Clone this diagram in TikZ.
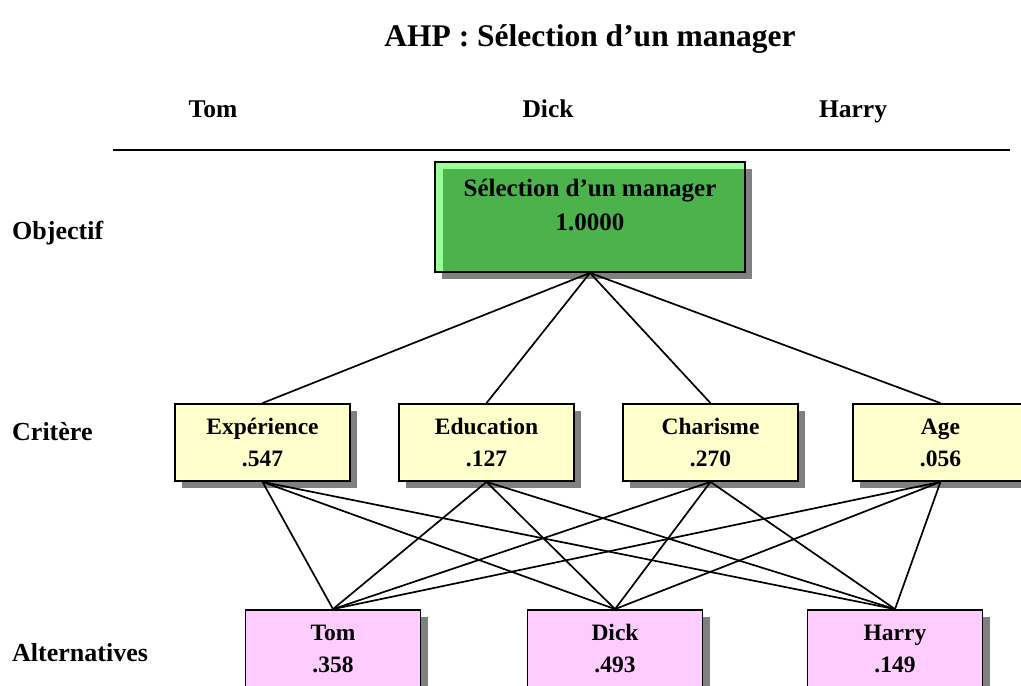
\documentclass[tikz,border=0pt]{standalone}
\usepackage{fontspec}
\setmainfont{Liberation Serif}
\usetikzlibrary{shadows}
\definecolor{goallight}{HTML}{99FF99}
\definecolor{goaldark}{HTML}{4CB34C}
\definecolor{critfill}{HTML}{FFFFCC}
\definecolor{altfill}{HTML}{FFCCFF}
\definecolor{shadowgray}{HTML}{808080}
\tikzset{
  boxshadow/.style={drop shadow={shadow xshift=7pt,shadow yshift=-7pt,fill=shadowgray,opacity=1}},
  critbox/.style={draw=black,line width=1.8pt,fill=critfill,boxshadow,
    minimum width=175pt,minimum height=77pt,inner sep=0pt,align=center,
    font=\bfseries\fontsize{23.5}{32}\selectfont},
  altbox/.style={critbox,fill=altfill},
  goalbox/.style={draw=black,line width=1.8pt,fill=goallight,boxshadow,
    minimum width=310pt,minimum height=110pt,inner sep=0pt,
    path picture={\fill[goaldark] ([xshift=8pt,yshift=-7pt]path picture bounding box.north west)
      rectangle (path picture bounding box.south east);}},
  goaltext/.style={align=center,inner sep=0pt,font=\bfseries\fontsize{25}{34}\selectfont},
  rowlabel/.style={anchor=base west,inner sep=0pt,font=\bfseries\fontsize{26}{30}\selectfont},
  toplabel/.style={anchor=base,inner sep=0pt,font=\bfseries\fontsize{25.5}{30}\selectfont},
  titlelabel/.style={anchor=base,inner sep=0pt,font=\bfseries\fontsize{31.5}{36}\selectfont},
  link/.style={draw=black,line width=1.7pt}
}
\begin{document}
\begin{tikzpicture}[x=1pt,y=-1pt]
\useasboundingbox (0,0) rectangle (1021,686);

% title and header row
\node[titlelabel] (title) at (590,46) {AHP : Sélection d’un manager};
\node[toplabel] (htom) at (213,117) {Tom};
\node[toplabel] (hdick) at (548,117) {Dick};
\node[toplabel] (harry) at (853,117) {Harry};
\coordinate (ruleL) at (113,150);
\coordinate (ruleR) at (1010,150);
\draw[line width=2.4pt] (ruleL) -- (ruleR);

% level labels
\node[rowlabel] (lobj) at (12,239) {Objectif};
\node[rowlabel] (lcrit) at (12,440) {Critère};
\node[rowlabel] (lalt) at (12,661) {Alternatives};

% goal
\node[goalbox] (goal) at (590,217) {};
\node[goaltext] (goallbl) at (590,205) {Sélection d’un manager\\1.0000};

% criteria
\node[critbox] (exp) at (262.5,442.5) {Expérience\\.547};
\node[critbox] (edu) at (486.5,442.5) {Education\\.127};
\node[critbox] (cha) at (710.5,442.5) {Charisme\\.270};
\node[critbox] (age) at (940.5,442.5) {Age\\.056};

% alternatives
\node[altbox] (tom) at (333,648.5) {Tom\\.358};
\node[altbox] (dick) at (615,648.5) {Dick\\.493};
\node[altbox] (hry) at (895,648.5) {Harry\\.149};

% goal to criteria
\foreach \c in {exp,edu,cha,age}
  \draw[link] (goal.south) -- (\c.north);

% criteria to alternatives
\foreach \c in {exp,edu,cha,age}
  \foreach \a in {tom,dick,hry}
    \draw[link] (\c.south) -- (\a.north);
\end{tikzpicture}
\end{document}
